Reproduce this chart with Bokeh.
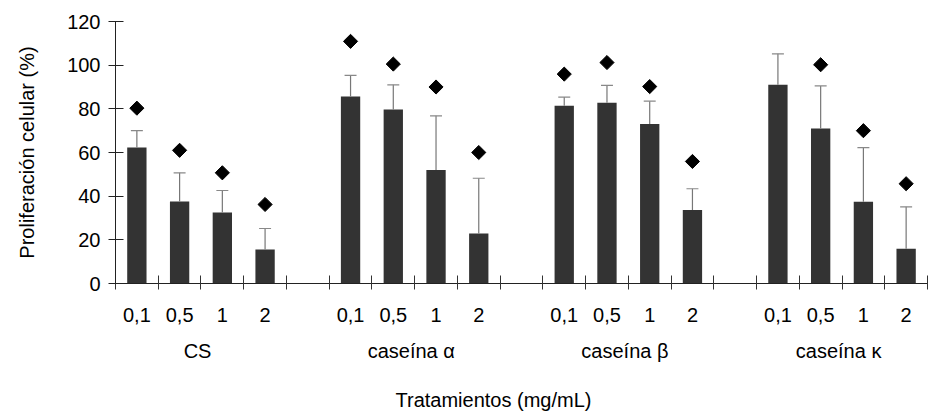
import math
from bokeh.plotting import figure
from bokeh.models import Range1d, LinearAxis, FixedTicker, Title, ColumnDataSource
from bokeh.embed import file_html
from bokeh.resources import INLINE

groups = ["CS", "caseína α", "caseína β", "caseína κ"]
doses = ["0,1", "0,5", "1", "2"]
means = {
    "CS": [62.3, 37.6, 32.5, 15.6],
    "caseína α": [85.7, 79.7, 52.0, 22.9],
    "caseína β": [81.4, 82.8, 73.1, 33.7],
    "caseína κ": [91.0, 71.0, 37.4, 15.9],
}
sds = {
    "CS": [7.7, 13.1, 10.1, 9.6],
    "caseína α": [9.6, 11.3, 24.8, 25.3],
    "caseína β": [4.0, 7.9, 10.4, 9.7],
    "caseína κ": [14.2, 19.5, 24.8, 19.2],
}
markers = {
    "CS": [80.3, 61.0, 50.7, 36.2],
    "caseína α": [110.9, 100.5, 90.0, 60.0],
    "caseína β": [95.9, 101.2, 90.2, 55.9],
    "caseína κ": [float("nan"), 100.2, 70.0, 45.7],
}
y_ticks = [0, 20, 40, 60, 80, 100, 120]

FONT = "Liberation Sans"
FS = "20px"
N = len(doses) + 1
SLOTS = len(groups) * N - 1
YMAX = 120

xs, tops, errs, mks = [], [], [], []
for gi, g in enumerate(groups):
    for di in range(len(doses)):
        xs.append(gi * N + di + 0.5)
        tops.append(means[g][di])
        errs.append(means[g][di] + sds[g][di])
        mks.append(markers[g][di])

src = ColumnDataSource(dict(x=xs, top=tops, err=errs, mk=mks,
                            cl=[x - 0.14 for x in xs], cr=[x + 0.14 for x in xs]))

p = figure(width=939, height=415, output_backend="svg", toolbar_location=None,
           x_range=Range1d(0, SLOTS), y_range=Range1d(0, YMAX),
           min_border_left=115, min_border_right=12, min_border_top=21, min_border_bottom=0,
           frame_width=812, frame_height=262,
           x_axis_type=None, y_axis_type=None)
p.outline_line_color = None
p.xgrid.visible = False
p.ygrid.visible = False
p.background_fill_color = "white"

p.vbar(x="x", top="top", width=0.452, bottom=0, source=src,
       fill_color="#333333", line_color=None)
p.segment(x0="x", y0="top", x1="x", y1="err", source=src, line_color="#777777", line_width=1.2)
p.segment(x0="cl", y0="err", x1="cr", y1="err", source=src, line_color="#888888", line_width=1.2)
p.scatter(x="x", y="mk", source=src, marker="square", size=10, angle=math.pi / 4,
          fill_color="black", line_color="black")

yaxis = LinearAxis(ticker=FixedTicker(ticks=y_ticks), axis_label="Proliferación celular (%)")
yaxis.major_tick_in = 8
yaxis.major_tick_out = 7
yaxis.minor_tick_line_color = None
yaxis.axis_line_color = "#222222"
yaxis.major_tick_line_color = "#222222"
yaxis.major_label_standoff = 8
yaxis.major_label_text_font = FONT
yaxis.major_label_text_font_size = FS
yaxis.major_label_text_color = "black"
yaxis.axis_label_text_font = FONT
yaxis.axis_label_text_font_size = FS
yaxis.axis_label_text_font_style = "normal"
yaxis.axis_label_text_color = "black"
yaxis.axis_label_standoff = 26
p.add_layout(yaxis, "left")

# dose labels at bar centres, boundary ticks as minor ticks
centers = xs
bounds = list(range(SLOTS + 1))
dose_axis = LinearAxis(ticker=FixedTicker(ticks=centers, minor_ticks=bounds))
dose_axis.major_label_overrides = {c: doses[i % len(doses)] for i, c in enumerate(centers)}
dose_axis.major_tick_in = 0
dose_axis.major_tick_out = 0
dose_axis.minor_tick_in = 8
dose_axis.minor_tick_out = 6
dose_axis.minor_tick_line_color = "#333333"
dose_axis.axis_line_color = "#222222"
dose_axis.major_label_standoff = 18
dose_axis.major_label_text_font = FONT
dose_axis.major_label_text_font_size = FS
dose_axis.major_label_text_color = "black"
p.add_layout(dose_axis, "below")

gcenters = [gi * N + len(doses) / 2 - 0.08 for gi in range(len(groups))]
group_axis = LinearAxis(ticker=FixedTicker(ticks=gcenters, minor_ticks=[]))
group_axis.major_label_overrides = {c: groups[i] for i, c in enumerate(gcenters)}
group_axis.major_tick_line_color = None
group_axis.minor_tick_line_color = None
group_axis.axis_line_color = None
group_axis.major_tick_in = 0
group_axis.major_tick_out = 0
group_axis.major_label_standoff = 15
group_axis.major_label_text_font = FONT
group_axis.major_label_text_font_size = FS
group_axis.major_label_text_color = "black"
p.add_layout(group_axis, "below")

t = Title(text="Tratamientos (mg/mL)", align="left", offset=280,
          text_font=FONT, text_font_size=FS, text_font_style="normal", text_color="black",
          standoff=45)
p.add_layout(t, "below")

open("out.html", "w").write(file_html(p, INLINE))
